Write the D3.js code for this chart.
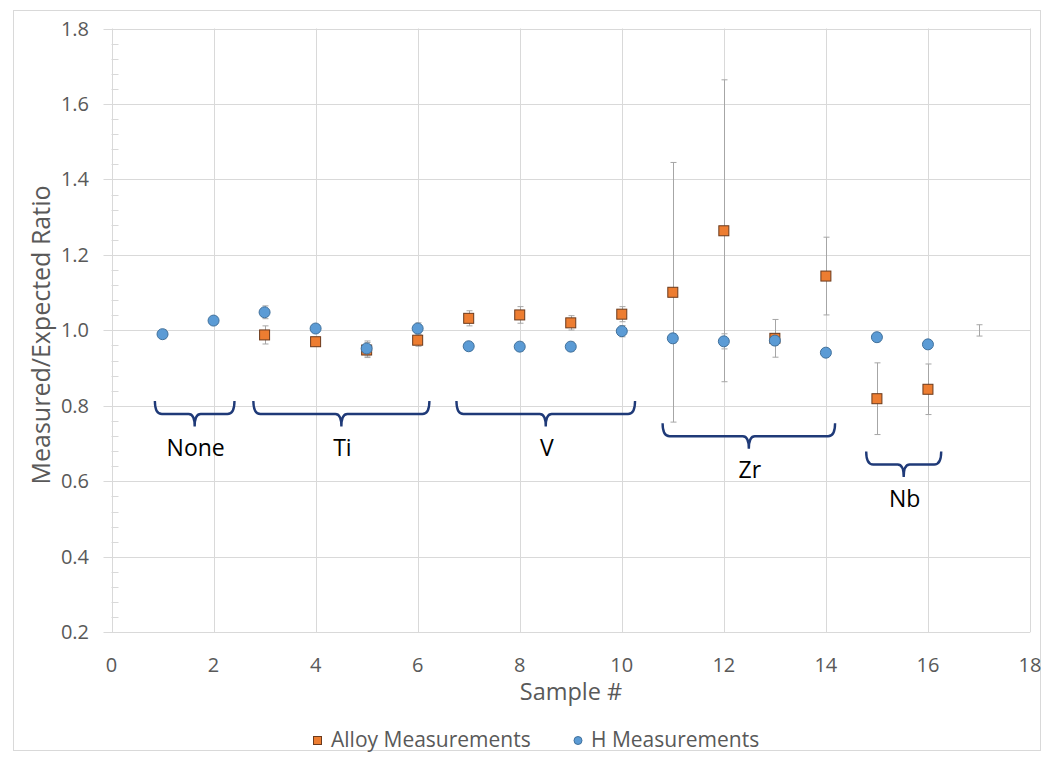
<!DOCTYPE html>
<html>
<head>
<meta charset="utf-8">
<style>
  html, body { margin: 0; padding: 0; background: #fff; }
  body { font-family: 'Open Sans', sans-serif; }
</style>
</head>
<body>
<script src="https://d3js.org/d3.v7.min.js"></script>
<script>
  // alloy measurements (orange squares), value and error
  var alloyX = [3, 4, 5, 6, 7, 8, 9, 10, 11, 12, 13, 14, 15, 16];
  var alloyY = [0.988, 0.970, 0.948, 0.974, 1.032, 1.041, 1.020, 1.043, 1.101, 1.264, 0.979, 1.144, 0.819, 0.844];
  var alloyErr = [0.024, 0.012, 0.02, 0.016, 0.02, 0.022, 0.019, 0.02, 0.344, 0.40, 0.05, 0.103, 0.095, 0.067];

  // H measurements (blue circles)
  var hX = [1, 2, 3, 4, 5, 6, 7, 8, 9, 10, 11, 12, 13, 14, 15, 16];
  var hY = [0.990, 1.026, 1.048, 1.005, 0.952, 1.005, 0.958, 0.957, 0.957, 0.998, 0.979, 0.971, 0.973, 0.941, 0.982, 0.963];
  var hErr = [0.012, 0.01, 0.017, 0.01, 0.02, 0.015, 0.01, 0.012, 0.012, 0.015, 0.012, 0.02, 0.012, 0.01, 0.012, 0.01];

  // lone error bar without a marker at sample 17
  var extraX = [17];
  var extraY = [1.0];
  var extraErr = [0.015];

  // group braces: label, start, end, top of brace
  var groupNames = ["None", "Ti", "V", "Zr", "Nb"];
  var groupStart = [0.85, 2.78, 6.76, 10.80, 14.79];
  var groupEnd = [2.41, 6.23, 10.26, 14.18, 16.26];
  var groupTop = [0.813, 0.813, 0.813, 0.754, 0.679];

  var xTicks = [0, 2, 4, 6, 8, 10, 12, 14, 16, 18];
  var yTicks = [0.2, 0.4, 0.6, 0.8, 1.0, 1.2, 1.4, 1.6, 1.8];

  var W = 1044, H = 757;
  var pLeft = 111.5, pRight = 1030, pTop = 28.5, pBottom = 632.3;

  var svg = d3.select("body").append("svg")
    .attr("width", W)
    .attr("height", H);

  svg.append("rect")
    .attr("x", 13.5).attr("y", 10.5)
    .attr("width", 1027).attr("height", 740)
    .attr("fill", "#fff")
    .attr("stroke", "#d9d9d9");

  var x = d3.scaleLinear().domain([0, 18]).range([pLeft, pRight]);
  var y = d3.scaleLinear().domain([0.2, 1.8]).range([pBottom, pTop]);

  var grid = svg.append("g").attr("stroke", "#d9d9d9").attr("stroke-width", 1);

  // horizontal gridlines
  grid.selectAll(".hg")
    .data(yTicks)
    .enter().append("line")
      .attr("x1", pLeft - 8).attr("x2", pRight)
      .attr("y1", function(d) { return Math.round(y(d)) + 0.5; })
      .attr("y2", function(d) { return Math.round(y(d)) + 0.5; });

  // vertical gridlines
  grid.selectAll(".vg")
    .data(xTicks)
    .enter().append("line")
      .attr("y1", pTop).attr("y2", pBottom)
      .attr("x1", function(d) { return Math.round(x(d)) + 0.5; })
      .attr("x2", function(d) { return Math.round(x(d)) + 0.5; });

  // y minor ticks
  var minor = d3.range(0, 41).map(function(i) { return 0.2 + i * 0.04; })
    .filter(function(d, i) { return i % 5 != 0; });
  grid.selectAll(".mt")
    .data(minor)
    .enter().append("line")
      .attr("x1", pLeft).attr("x2", pLeft + 7)
      .attr("y1", function(d) { return Math.round(y(d)) + 0.5; })
      .attr("y2", function(d) { return Math.round(y(d)) + 0.5; });

  // tick labels
  svg.append("g").selectAll("text")
    .data(yTicks)
    .enter().append("text")
      .attr("x", 89)
      .attr("y", function(d) { return y(d) + 7; })
      .attr("text-anchor", "end")
      .attr("font-size", "20px")
      .attr("fill", "#595959")
      .text(function(d) { return d3.format(".1f")(d); });

  svg.append("g").selectAll("text")
    .data(xTicks)
    .enter().append("text")
      .attr("x", function(d) { return x(d); })
      .attr("y", 672)
      .attr("text-anchor", "middle")
      .attr("font-size", "20px")
      .attr("fill", "#595959")
      .text(function(d) { return d; });

  // axis titles
  svg.append("text")
    .attr("transform", "translate(50,335) rotate(-90)")
    .attr("text-anchor", "middle")
    .attr("font-size", "25px")
    .attr("fill", "#595959")
    .text("Measured/Expected Ratio");

  svg.append("text")
    .attr("x", 571).attr("y", 700)
    .attr("text-anchor", "middle")
    .attr("font-size", "23.5px")
    .attr("fill", "#595959")
    .text("Sample #");

  // error bars
  function errorBars(xs, ys, es) {
    var g = svg.append("g").attr("stroke", "#a6a6a6").attr("stroke-width", 1);
    xs.forEach(function(xv, i) {
      var cx = Math.round(x(xv)) + 0.5;
      var y1 = y(ys[i] + es[i]), y2 = y(ys[i] - es[i]);
      g.append("line").attr("x1", cx).attr("x2", cx).attr("y1", y1).attr("y2", y2);
      g.append("line").attr("x1", cx - 3).attr("x2", cx + 3).attr("y1", y1).attr("y2", y1);
      g.append("line").attr("x1", cx - 3).attr("x2", cx + 3).attr("y1", y2).attr("y2", y2);
    });
  }
  errorBars(alloyX, alloyY, alloyErr);
  errorBars(hX, hY, hErr);
  errorBars(extraX, extraY, extraErr);

  // markers
  svg.append("g").selectAll("rect")
    .data(alloyX)
    .enter().append("rect")
      .attr("x", function(d) { return x(d) - 5; })
      .attr("y", function(d, i) { return y(alloyY[i]) - 5; })
      .attr("width", 10).attr("height", 10)
      .attr("fill", "#ed7d31")
      .attr("stroke", "#6b3a1c")
      .attr("stroke-width", 1);

  svg.append("g").selectAll("circle")
    .data(hX)
    .enter().append("circle")
      .attr("cx", function(d) { return x(d); })
      .attr("cy", function(d, i) { return y(hY[i]); })
      .attr("r", 5.5)
      .attr("fill", "#5b9bd5")
      .attr("stroke", "#41719c")
      .attr("stroke-width", 1);

  // braces
  function bracePath(x0, x1, yt) {
    var yl = yt + 13, yp = yt + 25.5, xc = (x0 + x1) / 2;
    return "M" + x0 + "," + yt +
      " Q" + x0 + "," + yl + " " + (x0 + 7) + "," + yl +
      " L" + (xc - 6) + "," + yl +
      " Q" + xc + "," + yl + " " + xc + "," + yp +
      " Q" + xc + "," + yl + " " + (xc + 6) + "," + yl +
      " L" + (x1 - 7) + "," + yl +
      " Q" + x1 + "," + yl + " " + x1 + "," + yt;
  }
  var braces = svg.append("g");
  groupNames.forEach(function(name, i) {
    var x0 = x(groupStart[i]), x1 = x(groupEnd[i]), yt = y(groupTop[i]);
    braces.append("path")
      .attr("d", bracePath(x0, x1, yt))
      .attr("fill", "none")
      .attr("stroke", "#1f3a78")
      .attr("stroke-width", 2.4);
    braces.append("text")
      .attr("x", (x0 + x1) / 2 + 1)
      .attr("y", yt + 55)
      .attr("text-anchor", "middle")
      .attr("font-size", "23px")
      .attr("fill", "#000")
      .text(name);
  });

  // legend
  var lg = svg.append("g");
  lg.append("rect")
    .attr("x", 313.5).attr("y", 736.5).attr("width", 8).attr("height", 8)
    .attr("fill", "#ed7d31").attr("stroke", "#6b3a1c");
  lg.append("text")
    .attr("x", 331).attr("y", 747)
    .attr("font-size", "21px").attr("fill", "#595959")
    .text("Alloy Measurements");
  lg.append("circle")
    .attr("cx", 578).attr("cy", 740.5).attr("r", 4)
    .attr("fill", "#5b9bd5").attr("stroke", "#41719c");
  lg.append("text")
    .attr("x", 591).attr("y", 747)
    .attr("font-size", "21px").attr("fill", "#595959")
    .text("H Measurements");
</script>
</body>
</html>
